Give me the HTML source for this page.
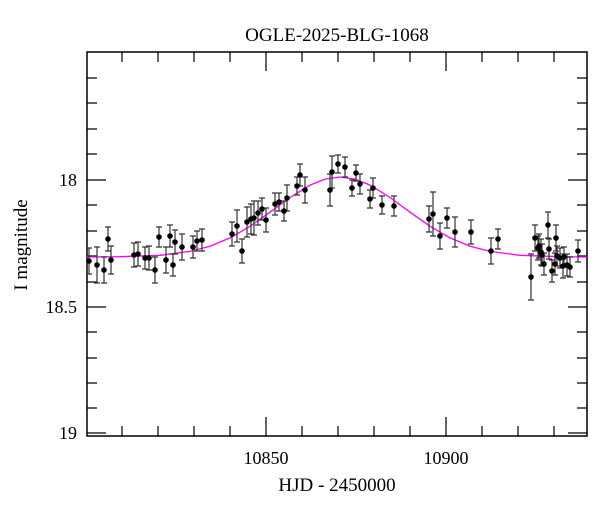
<!DOCTYPE html>
<html><head><meta charset="utf-8"><style>
body{margin:0;background:#fff}
svg text{font-family:"Liberation Serif","DejaVu Serif",serif;fill:#000}
</style></head><body>
<svg width="600" height="512" xmlns="http://www.w3.org/2000/svg">
<text x="337" y="41" font-size="19" text-anchor="middle">OGLE-2025-BLG-1068</text>
<text x="337" y="491" font-size="19" text-anchor="middle">HJD - 2450000</text>
<text transform="translate(27,245) rotate(-90)" font-size="19" text-anchor="middle">I magnitude</text>
<g font-size="18" text-anchor="middle">
<text x="266" y="464">10850</text><text x="446" y="464">10900</text>
</g>
<g font-size="18" text-anchor="end">
<text x="77" y="186">18</text><text x="77" y="313">18.5</text><text x="77" y="439">19</text>
</g>
<rect x="87" y="52" width="500" height="384" fill="none" stroke="#000" stroke-width="1.5"/>
<g stroke="#000" stroke-width="1.2">
<path d="M266 436v-19M446 436v-19M266 52v19M446 52v19
M122 436v-10M158 436v-10M194 436v-10M230 436v-10M302 436v-10M338 436v-10M374 436v-10M410 436v-10M482 436v-10M518 436v-10M554 436v-10
M122 52v10M158 52v10M194 52v10M230 52v10M302 52v10M338 52v10M374 52v10M410 52v10M482 52v10M518 52v10M554 52v10
M87 180h19M87 307h19M87 433h19M587 180h-19M587 307h-19M587 433h-19
M87 78h10M87 103h10M87 129h10M87 154h10M87 205h10M87 231h10M87 256h10M87 282h10M87 332h10M87 358h10M87 383h10M87 408h10
M587 78h-10M587 103h-10M587 129h-10M587 154h-10M587 205h-10M587 231h-10M587 256h-10M587 282h-10M587 332h-10M587 358h-10M587 383h-10M587 408h-10"/>
</g>
<polyline fill="none" stroke="#ff00ff" stroke-width="1.3" points="87,257 120,256.7 160,255.3 190,251.4 210,246.2 230,237.9 250,226.3 270,212.2 290,197.5 310,185.1 325,179.1 340,177 355,179.1 370,185.1 390,197.5 410,212.2 430,226.3 450,237.9 470,246.2 490,251.4 520,255.3 560,256.7 587,257"/>
<path fill="none" stroke="#333" stroke-width="1.2" d="
M89 248v26M86 248h6M86 274h6
M97 247v36M94 247h6M94 283h6
M104 257v26M101 257h6M101 283h6
M108 227v24M105 227h6M105 251h6
M111 246v28M108 246h6M108 274h6
M134 243v24M131 243h6M131 267h6
M138 242v24M135 242h6M135 266h6
M145 247v22M142 247h6M142 269h6
M149 246v24M146 246h6M146 270h6
M155 257v26M152 257h6M152 283h6
M159 227v20M156 227h6M156 247h6
M166 247v26M163 247h6M163 273h6
M170 225v22M167 225h6M167 247h6
M173 254v22M170 254h6M170 276h6
M175 230v24M172 230h6M172 254h6
M182 234v26M179 234h6M179 260h6
M193 236v22M190 236h6M190 258h6
M197 231v20M194 231h6M194 251h6
M202 229v22M199 229h6M199 251h6
M232 222v24M229 222h6M229 246h6
M237 210v32M234 210h6M234 242h6
M242 239v24M239 239h6M239 263h6
M247 207v30M244 207h6M244 237h6
M251 204v30M248 204h6M248 234h6
M254 201v34M251 201h6M251 235h6
M258 201v24M255 201h6M255 225h6
M262 198v22M259 198h6M259 220h6
M266 208v24M263 208h6M263 232h6
M275 193v22M272 193h6M272 215h6
M279 193v18M276 193h6M276 211h6
M284 201v20M281 201h6M281 221h6
M287 185v26M284 185h6M284 211h6
M297 177v18M294 177h6M294 195h6
M300 164v22M297 164h6M297 186h6
M305 177v26M302 177h6M302 203h6
M330 174v32M327 174h6M327 206h6
M332 156v32M329 156h6M329 188h6
M338 155v18M335 155h6M335 173h6
M345 157v20M342 157h6M342 177h6
M352 180v16M349 180h6M349 196h6
M356 165v16M353 165h6M353 181h6
M360 174v20M357 174h6M357 194h6
M370 190v18M367 190h6M367 208h6
M373 178v20M370 178h6M370 198h6
M382 196v18M379 196h6M379 214h6
M394 196v20M391 196h6M391 216h6
M429 206v26M426 206h6M426 232h6
M433 192v44M430 192h6M430 236h6
M440 223v26M437 223h6M437 249h6
M447 208v20M444 208h6M444 228h6
M455 217v30M452 217h6M452 247h6
M471 220v24M468 220h6M468 244h6
M491 238v26M488 238h6M488 264h6
M498 229v20M495 229h6M495 249h6
M531 254v46M528 254h6M528 300h6
M535 225v26M532 225h6M532 251h6
M538 236v24M535 236h6M535 260h6
M539 234v24M536 234h6M536 258h6
M541 239v26M538 239h6M538 265h6
M542 244v22M539 244h6M539 266h6
M544 253v22M541 253h6M541 275h6
M548 212v26M545 212h6M545 238h6
M549 239v20M546 239h6M546 259h6
M552 260v22M549 260h6M549 282h6
M555 253v22M552 253h6M552 275h6
M556 225v26M553 225h6M553 251h6
M557 246v20M554 246h6M554 266h6
M560 248v20M557 248h6M557 268h6
M563 254v24M560 254h6M560 278h6
M564 247v20M561 247h6M561 267h6
M567 254v22M564 254h6M564 276h6
M570 257v20M567 257h6M567 277h6
M578 240v22M575 240h6M575 262h6"/>
<g fill="#000">
<circle cx="89" cy="261" r="2.8"/><circle cx="97" cy="265" r="2.8"/><circle cx="104" cy="270" r="2.8"/><circle cx="108" cy="239" r="2.8"/><circle cx="111" cy="260" r="2.8"/>
<circle cx="134" cy="255" r="2.8"/><circle cx="138" cy="254" r="2.8"/><circle cx="145" cy="258" r="2.8"/><circle cx="149" cy="258" r="2.8"/><circle cx="155" cy="270" r="2.8"/>
<circle cx="159" cy="237" r="2.8"/><circle cx="166" cy="260" r="2.8"/><circle cx="170" cy="236" r="2.8"/><circle cx="173" cy="265" r="2.8"/><circle cx="175" cy="242" r="2.8"/>
<circle cx="182" cy="247" r="2.8"/><circle cx="193" cy="247" r="2.8"/><circle cx="197" cy="241" r="2.8"/><circle cx="202" cy="240" r="2.8"/><circle cx="232" cy="234" r="2.8"/>
<circle cx="237" cy="226" r="2.8"/><circle cx="242" cy="251" r="2.8"/><circle cx="247" cy="222" r="2.8"/><circle cx="251" cy="219" r="2.8"/><circle cx="254" cy="218" r="2.8"/>
<circle cx="258" cy="213" r="2.8"/><circle cx="262" cy="209" r="2.8"/><circle cx="266" cy="220" r="2.8"/><circle cx="275" cy="204" r="2.8"/><circle cx="279" cy="202" r="2.8"/>
<circle cx="284" cy="211" r="2.8"/><circle cx="287" cy="198" r="2.8"/><circle cx="297" cy="186" r="2.8"/><circle cx="300" cy="175" r="2.8"/><circle cx="305" cy="190" r="2.8"/>
<circle cx="330" cy="190" r="2.8"/><circle cx="332" cy="172" r="2.8"/><circle cx="338" cy="164" r="2.8"/><circle cx="345" cy="167" r="2.8"/><circle cx="352" cy="188" r="2.8"/>
<circle cx="356" cy="173" r="2.8"/><circle cx="360" cy="184" r="2.8"/><circle cx="370" cy="199" r="2.8"/><circle cx="373" cy="188" r="2.8"/><circle cx="382" cy="205" r="2.8"/>
<circle cx="394" cy="206" r="2.8"/><circle cx="429" cy="219" r="2.8"/><circle cx="433" cy="214" r="2.8"/><circle cx="440" cy="236" r="2.8"/><circle cx="447" cy="218" r="2.8"/>
<circle cx="455" cy="232" r="2.8"/><circle cx="471" cy="232" r="2.8"/><circle cx="491" cy="251" r="2.8"/><circle cx="498" cy="239" r="2.8"/><circle cx="531" cy="277" r="2.8"/>
<circle cx="535" cy="238" r="2.8"/><circle cx="538" cy="248" r="2.8"/><circle cx="539" cy="246" r="2.8"/><circle cx="541" cy="252" r="2.8"/><circle cx="542" cy="255" r="2.8"/>
<circle cx="544" cy="264" r="2.8"/><circle cx="548" cy="225" r="2.8"/><circle cx="549" cy="249" r="2.8"/><circle cx="552" cy="271" r="2.8"/><circle cx="555" cy="264" r="2.8"/>
<circle cx="556" cy="238" r="2.8"/><circle cx="557" cy="256" r="2.8"/><circle cx="560" cy="258" r="2.8"/><circle cx="563" cy="266" r="2.8"/><circle cx="564" cy="257" r="2.8"/>
<circle cx="567" cy="265" r="2.8"/><circle cx="570" cy="267" r="2.8"/><circle cx="578" cy="251" r="2.8"/>
</g>
</svg>
</body></html>
